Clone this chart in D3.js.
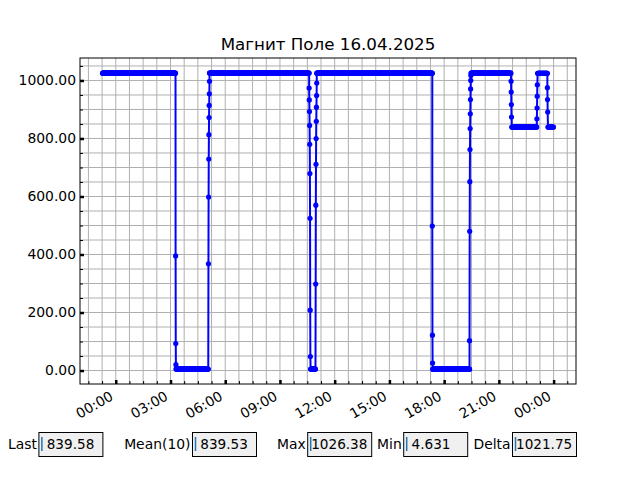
<!DOCTYPE html>
<html>
<head>
<meta charset="utf-8">
<script src="https://cdn.jsdelivr.net/npm/d3@7"></script>
<style>
  body { margin: 0; background: #fff; }
  text { font-family: "DejaVu Sans", sans-serif; }
</style>
</head>
<body>
<div id="chart"></div>
<script>
// Data (minutes from 16.04.2025 00:00)
// plateaus: runs of identical readings
const plateauStart = [-43.5, 198.2, 308.2, 461, 561, 640.8, 661, 1042.5, 1168.5, 1302.5, 1387.5, 1421.5];
const plateauEnd   = [196.4, 304.4, 460, 560, 635.5, 657, 1040.5, 1163, 1299.5, 1384.5, 1419, 1439];
const plateauLevel = [1025.2, 5.1, 1025.4, 1026.38, 1025.6, 5.3, 1025.0, 4.631, 1025.3, 839.5, 1024.5, 839.58];
const plateauStep = 1;

// readings during the jumps, taken after the plateau with the same index
const transStart = [196.8, 304.8, null, null, 636, 657.5, 1041, 1163.5, 1300, 1385, 1419.5];
const transValues = [
  [395, 93, 20],
  [368, 598, 729, 813, 872, 914, 954, 997],
  [],
  [],
  [974, 933, 893, 845, 780, 679, 525, 208, 48],
  [298, 570, 711, 800, 859, 908, 948, 991],
  [498, 122, 26],
  [103, 480, 651, 762, 834, 885, 934, 971, 1000, 1017],
  [997, 960, 917, 874],
  [868, 905, 946, 985],
  [975, 934, 891]
];
const transStep = 0.5;

const yTickValues = [0, 200, 400, 600, 800, 1000];
const statLabels = ["Last", "Mean(10)", "Max", "Min", "Delta"];
const statValues = ["\u00a0839.58", "\u00a0839.53", "1026.38", "\u00a04.631", "1021.75"];
const titleText = "Магнит Поле 16.04.2025";

// Set up SVG
const width = 640;
const height = 480;
const margin = {top: 58, right: 64, bottom: 96, left: 80};
const plotW = width - margin.left - margin.right;
const plotH = height - margin.top - margin.bottom;

const svg = d3.select("#chart")
  .append("svg")
  .attr("width", width)
  .attr("height", height);

const base = new Date(2025, 3, 16, 0, 0, 0);
const toDate = m => new Date(base.getTime() + m * 60000);

// Build series
const series = [];
plateauStart.forEach((s, i) => {
  const n = Math.round((plateauEnd[i] - s) / plateauStep);
  for (let k = 0; k <= n; k++) {
    series.push({t: toDate(s + k * plateauStep), v: plateauLevel[i]});
  }
  if (transStart[i] != null) {
    transValues[i].forEach((v, k) => series.push({t: toDate(transStart[i] + k * transStep), v: v}));
  }
});

// Scales with 5% margins like matplotlib
const tExt = d3.extent(series, d => d.t);
const tPad = (tExt[1] - tExt[0]) * 0.05;
const x = d3.scaleTime()
  .domain([new Date(+tExt[0] - tPad), new Date(+tExt[1] + tPad)])
  .range([0, plotW]);

const vExt = d3.extent(series, d => d.v);
const vPad = (vExt[1] - vExt[0]) * 0.05;
const y = d3.scaleLinear()
  .domain([vExt[0] - vPad, vExt[1] + vPad])
  .range([plotH, 0]);

const g = svg.append("g")
  .attr("transform", `translate(${margin.left},${margin.top})`);

// Ticks
const xMajor = d3.timeHour.every(3).range(x.domain()[0], x.domain()[1]);
const xMinor = [];
for (let m = -45 * 10; m < 60 * 30; m += 45) {
  const d = toDate(m);
  if (d >= x.domain()[0] && d <= x.domain()[1]) xMinor.push(d);
}
const yMinor = d3.range(0, y.domain()[1], 50);

// Grid
g.append("g").selectAll("line")
  .data(xMinor)
  .join("line")
  .attr("x1", d => x(d)).attr("x2", d => x(d))
  .attr("y1", 0).attr("y2", plotH)
  .attr("stroke", "#b0b0b0").attr("stroke-width", 1);

g.append("g").selectAll("line")
  .data(yMinor)
  .join("line")
  .attr("x1", 0).attr("x2", plotW)
  .attr("y1", d => y(d)).attr("y2", d => y(d))
  .attr("stroke", "#b0b0b0").attr("stroke-width", 1);

// Minor ticks
const xMinorAxis = g.append("g")
  .attr("transform", `translate(0,${plotH})`)
  .call(d3.axisBottom(x).tickValues(xMinor).tickSizeInner(-3).tickSizeOuter(0).tickFormat(""));
xMinorAxis.select(".domain").remove();

const yMinorAxis = g.append("g")
  .call(d3.axisLeft(y).tickValues(yMinor).tickSizeInner(-3).tickSizeOuter(0).tickFormat(""));
yMinorAxis.select(".domain").remove();

// Major ticks + labels
const xAxis = g.append("g")
  .attr("transform", `translate(0,${plotH})`)
  .call(d3.axisBottom(x).tickValues(xMajor).tickSizeInner(-4).tickSizeOuter(0)
    .tickFormat(d3.timeFormat("%H:%M")));
xAxis.select(".domain").remove();
xAxis.attr("font-size", null).attr("font-family", null);
xAxis.selectAll(".tick line").attr("stroke-width", 2.5);
xAxis.selectAll(".tick text")
  .attr("x", 0).attr("y", 0).attr("dy", null)
  .attr("text-anchor", "end")
  .attr("transform", "translate(-2,15) rotate(-30)")
  .style("font-size", "13.9px");

const yAxis = g.append("g")
  .call(d3.axisLeft(y).tickValues(yTickValues).tickSizeInner(-4).tickSizeOuter(0)
    .tickPadding(4).tickFormat(d3.format(".2f")));
yAxis.select(".domain").remove();
yAxis.attr("font-size", null).attr("font-family", null);
yAxis.selectAll(".tick line").attr("stroke-width", 2.5);
yAxis.selectAll(".tick text").style("font-size", "13.9px");

// Data line and markers
const line = d3.line()
  .x(d => x(d.t))
  .y(d => y(d.v));

g.append("path")
  .datum(series)
  .attr("fill", "none")
  .attr("stroke", "#0000ff")
  .attr("stroke-width", 2)
  .attr("d", line);

g.append("g").selectAll("circle")
  .data(series)
  .join("circle")
  .attr("cx", d => x(d.t))
  .attr("cy", d => y(d.v))
  .attr("r", 2.6)
  .attr("fill", "#0000ff");

// Frame
g.append("rect")
  .attr("width", plotW).attr("height", plotH)
  .attr("fill", "none").attr("stroke", "#000").attr("stroke-width", 1);

// Title
svg.append("text")
  .attr("x", margin.left + plotW / 2)
  .attr("y", 50)
  .attr("text-anchor", "middle")
  .style("font-size", "16.7px")
  .text(titleText);

// Stat boxes along the bottom
const boxX = [0.06, 0.3, 0.48, 0.63, 0.8].map(f => f * width);
const boxW = 0.1 * width;
const boxH = 0.05 * height;
const boxY = height - 0.05 * height - boxH;

statLabels.forEach((lab, i) => {
  const bx = boxX[i];
  svg.append("text")
    .attr("x", bx - 1.5)
    .attr("y", boxY + boxH / 2)
    .attr("text-anchor", "end")
    .attr("dominant-baseline", "central")
    .style("font-size", "13.9px")
    .text(lab);

  svg.append("rect")
    .attr("x", bx + 0.5).attr("y", boxY + 0.5)
    .attr("width", boxW).attr("height", boxH)
    .attr("fill", "#f0f0f0").attr("stroke", "#000").attr("stroke-width", 1);

  svg.append("line")
    .attr("x1", bx + 3.5).attr("x2", bx + 3.5)
    .attr("y1", boxY + 5).attr("y2", boxY + boxH - 5)
    .attr("stroke", "#1f77b4").attr("stroke-width", 1.5);

  svg.append("text")
    .attr("x", bx + 4)
    .attr("y", boxY + boxH / 2)
    .attr("dominant-baseline", "central")
    .style("font-size", "13.6px")
    .text(statValues[i]);
});
</script>
</body>
</html>
